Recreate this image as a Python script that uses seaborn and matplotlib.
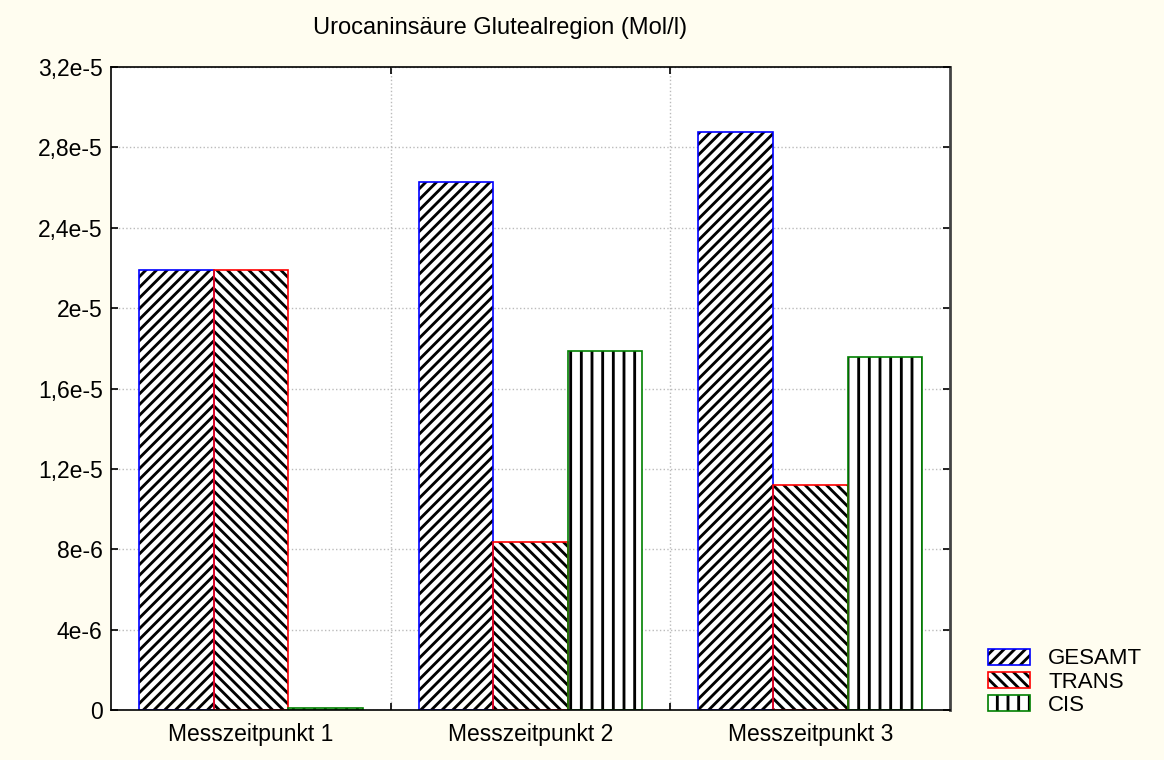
import pandas as pd
import seaborn as sns
import matplotlib.pyplot as plt
import matplotlib.patches as mpatches
from matplotlib.legend_handler import HandlerTuple

# Werte
zeitpunkte = ['Messzeitpunkt 1', 'Messzeitpunkt 2', 'Messzeitpunkt 3']
reihen = ['GESAMT', 'TRANS', 'CIS']
gesamt = [2.19e-5, 2.63e-5, 2.875e-5]
trans = [2.19e-5, 8.37e-6, 1.12e-5]
cis = [1.0e-7, 1.787e-5, 1.756e-5]

y_ticks = [0, 4e-6, 8e-6, 1.2e-5, 1.6e-5, 2e-5, 2.4e-5, 2.8e-5, 3.2e-5]
y_labels = ['0', '4e-6', '8e-6', '1,2e-5', '1,6e-5', '2e-5', '2,4e-5', '2,8e-5', '3,2e-5']

farben = ['#0000ff', '#ff0000', '#008000']
muster = ['////', '\\\\\\\\', '||']

df = pd.DataFrame({
    'Zeitpunkt': zeitpunkte * 3,
    'Reihe': [r for r in reihen for _ in zeitpunkte],
    'Wert': gesamt + trans + cis,
})

# dpi 128 -> Schraffurabstand ca. 10-11 px wie im Original
DPI = 128
k = 100 / DPI

sns.set_theme(style='ticks')
plt.rcParams['font.family'] = ['Liberation Sans', 'DejaVu Sans']
plt.rcParams['hatch.linewidth'] = 1.6
plt.rcParams['hatch.color'] = 'black'
plt.rcParams['text.color'] = 'black'
plt.rcParams['xtick.color'] = 'black'
plt.rcParams['ytick.color'] = 'black'

fs = 16.5 * k

fig = plt.figure(figsize=(1164 / DPI, 760 / DPI), dpi=DPI, facecolor='#fffdf0')
ax = fig.add_axes([0.0954, 0.0658, 0.7208, 0.846])
ax.set_facecolor('white')

# schraffierte Balken (schwarze Schraffur)
sns.barplot(data=df, x='Zeitpunkt', y='Wert', hue='Reihe', hue_order=reihen,
            palette=['white'] * 3, edgecolor='black', linewidth=0,
            errorbar=None, legend=False, saturation=1, ax=ax)
for cont, h in zip(ax.containers, muster):
    for bar in cont:
        bar.set_hatch(h)

# farbige Umrandung darueber
sns.barplot(data=df, x='Zeitpunkt', y='Wert', hue='Reihe', hue_order=reihen,
            palette=farben, fill=False, linewidth=1.2 * k,
            errorbar=None, legend=False, saturation=1, ax=ax)

ax.set_xlim(-0.5, 2.5)
ax.set_ylim(0, 3.2e-5)
ax.set_yticks(y_ticks)
ax.set_yticklabels(y_labels)
ax.set_xticks([0.5, 1.5])
ax.set_xticklabels([])
ax.set_xticks([0, 1, 2], minor=True)
ax.set_xticklabels(zeitpunkte, minor=True)
ax.tick_params(which='major', direction='in', top=True, right=True,
               length=5 * k, width=1.2 * k, color='black', labelcolor='black',
               labelsize=fs, pad=4.7)
ax.tick_params(which='minor', length=0, labelsize=fs, labelcolor='black', pad=7.3)
ax.set_xlabel('')
ax.set_ylabel('')
ax.grid(True, which='major', linestyle=':', color='#bbbbbb', linewidth=1 * k)
ax.set_axisbelow(True)
for s in ax.spines.values():
    s.set_visible(True)
    s.set_color('black')
    s.set_linewidth(1.2 * k)
ax.spines['right'].set_color('#444444')
ax.spines['right'].set_linewidth(2 * k)

fig.text(500 / 1164, 1 - 28 / 760, 'Urocaninsäure Glutealregion (Mol/l)',
         ha='center', va='center', fontsize=17 * k, color='black')

handles = []
for f, h in zip(farben, muster):
    schraffur = mpatches.Patch(facecolor='white', edgecolor='black', linewidth=0, hatch=h)
    rand = mpatches.Patch(facecolor='none', edgecolor=f, linewidth=1.2 * k)
    handles.append((schraffur, rand))
fig.legend(handles, reihen, loc='lower left', bbox_to_anchor=(0.849, 0.058),
           frameon=False, fontsize=16 * k, handlelength=1.9, handleheight=0.75,
           labelspacing=0.1, handletextpad=0.8, borderpad=0, borderaxespad=0,
           labelcolor='black',
           handler_map={tuple: HandlerTuple(ndivide=1)})

plt.savefig('out.png', dpi=DPI, facecolor=fig.get_facecolor())
